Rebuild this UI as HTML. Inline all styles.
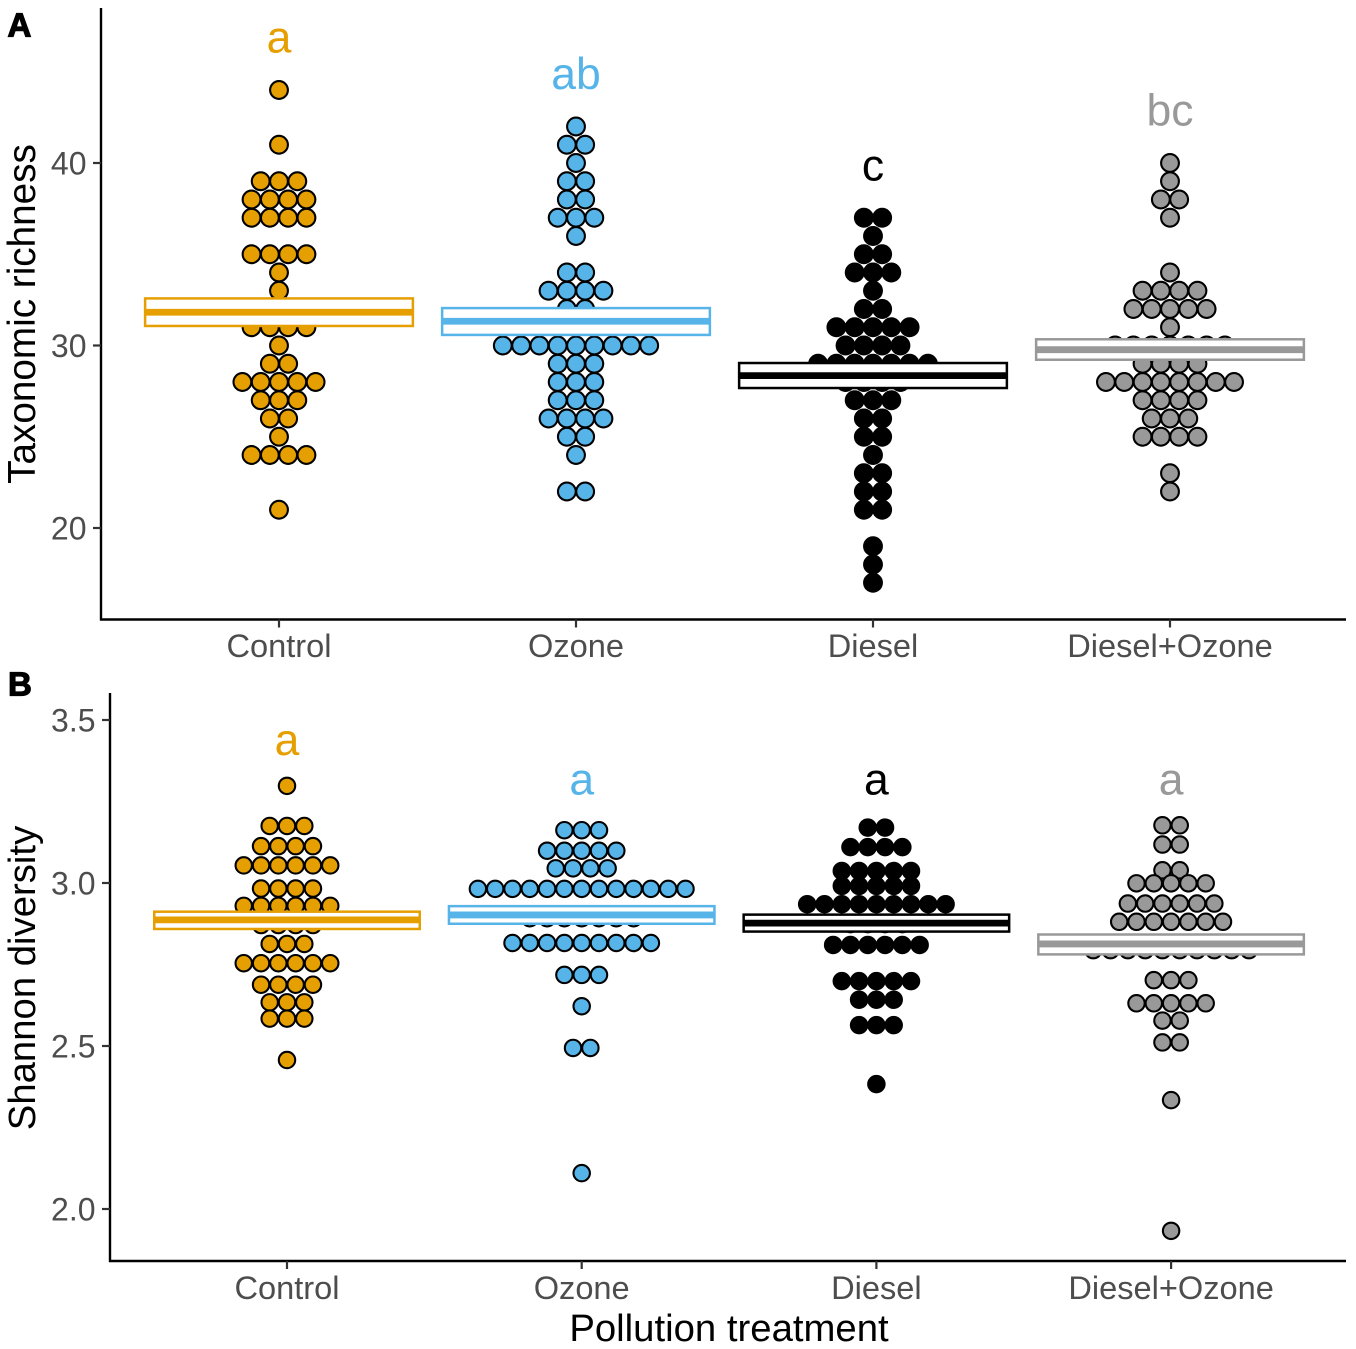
<!DOCTYPE html>
<html lang="en">
<head>
<meta charset="utf-8">
<title>Taxonomic richness and Shannon diversity by pollution treatment</title>
<style>
html,body{margin:0;padding:0;background:#fff;}
svg{display:block;font-family:"Liberation Sans",Arial,sans-serif;}
</style>
</head>
<body>
<svg id="chart" width="1356" height="1349" viewBox="0 0 1356 1349" xmlns="http://www.w3.org/2000/svg">
  <rect x="0" y="0" width="1356" height="1349" fill="#fff"/>
  <text x="7.5" y="36.5" font-size="33" font-weight="700" stroke="#000" stroke-width="1.2">A</text>
  <text x="8" y="695.5" font-size="33" font-weight="700" stroke="#000" stroke-width="1.2">B</text>
  <text transform="translate(35,314) rotate(-90)" text-anchor="middle" font-size="38.7" fill="#000">Taxonomic richness</text>
  <text transform="translate(35,978) rotate(-90)" text-anchor="middle" font-size="38.3" fill="#000">Shannon diversity</text>
  <text x="729" y="1341" text-anchor="middle" font-size="38.3" fill="#000">Pollution treatment</text>
  <g id="panel-a"></g>
  <g id="panel-b"></g>
</svg>
<script>
// Shared categories and colours
const categories = ['Control', 'Ozone', 'Diesel', 'Diesel+Ozone'];
const seriesColors = ['#E69F00', '#56B4E9', '#000000', '#999999'];

// Panel A: taxonomic richness (dot levels and number of dots at each level)
const richnessControlLevels = [44, 41, 39, 38, 37, 35, 34, 33, 31, 30, 29, 28, 27, 26, 25, 24, 21];
const richnessControlCounts = [1, 1, 3, 4, 4, 4, 1, 1, 4, 1, 2, 5, 3, 2, 1, 4, 1];
const richnessOzoneLevels = [42, 41, 40, 39, 38, 37, 36, 34, 33, 32, 30, 29, 28, 27, 26, 25, 24, 22];
const richnessOzoneCounts = [1, 2, 1, 2, 2, 3, 1, 2, 4, 2, 9, 3, 3, 3, 4, 2, 1, 2];
const richnessDieselLevels = [37, 36, 35, 34, 33, 32, 31, 30, 29, 28, 27, 26, 25, 24, 23, 22, 21, 19, 18, 17];
const richnessDieselCounts = [2, 1, 2, 3, 1, 2, 5, 4, 7, 4, 3, 2, 2, 1, 2, 2, 2, 1, 1, 1];
const richnessBothLevels = [40, 39, 38, 37, 34, 33, 32, 31, 30, 29, 28, 27, 26, 25, 23, 22];
const richnessBothCounts = [1, 1, 2, 1, 1, 4, 5, 1, 7, 4, 8, 4, 3, 4, 1, 1];
const richnessMeans = [31.82, 31.33, 28.35, 29.77];
const richnessUpper = [32.58, 32.05, 29.04, 30.34];
const richnessLower = [31.07, 30.58, 27.67, 29.22];
const richnessLetters = ['a', 'ab', 'c', 'bc'];
const richnessLetterLevels = [46.05, 44.05, 39.05, 42.05];
const richnessTicks = [20, 30, 40];
const richnessTickLabels = ['20', '30', '40'];

// Panel B: Shannon diversity
const shannonControlLevels = [3.298, 3.175, 3.113, 3.054, 2.983, 2.93, 2.871, 2.813, 2.754, 2.688, 2.634, 2.584, 2.457];
const shannonControlCounts = [1, 3, 4, 6, 4, 6, 4, 3, 6, 4, 3, 3, 1];
const shannonOzoneLevels = [3.162, 3.099, 3.045, 2.982, 2.892, 2.816, 2.718, 2.622, 2.494, 2.11];
const shannonOzoneCounts = [3, 5, 4, 13, 7, 9, 3, 1, 2, 1];
const shannonDieselLevels = [3.17, 3.11, 3.037, 2.991, 2.935, 2.874, 2.81, 2.699, 2.642, 2.564, 2.383];
const shannonDieselCounts = [2, 4, 5, 5, 9, 4, 6, 5, 3, 3, 1];
const shannonBothLevels = [3.177, 3.118, 3.039, 2.999, 2.937, 2.881, 2.794, 2.702, 2.631, 2.578, 2.511, 2.334, 1.933];
const shannonBothCounts = [2, 2, 2, 5, 6, 7, 10, 3, 5, 2, 2, 1, 1];
const shannonMeans = [2.887, 2.902, 2.877, 2.813];
const shannonUpper = [2.912, 2.929, 2.903, 2.842];
const shannonLower = [2.859, 2.875, 2.851, 2.781];
const shannonLetters = ['a', 'a', 'a', 'a'];
const shannonLetterLevels = [3.392, 3.272, 3.272, 3.272];
const shannonTicks = [2.0, 2.5, 3.0, 3.5];
const shannonTickLabels = ['2.0', '2.5', '3.0', '3.5'];

const NS = 'http://www.w3.org/2000/svg';
function make(tag, parent, props) {
  const el = document.createElementNS(NS, tag);
  for (const k in props) el.setAttribute(k, props[k]);
  parent.appendChild(el);
  return el;
}

function drawPanel(p) {
  const g = document.getElementById(p.id);

  // Dots
  p.levels.forEach(function (levels, c) {
    const counts = p.counts[c];
    levels.forEach(function (level, r) {
      const n = counts[r];
      for (let j = 0; j < n; j++) {
        const dot = make('circle', g, {
          cx: p.x(c) + (j - (n - 1) / 2) * p.step,
          cy: p.y(level),
          r: p.radius,
          fill: seriesColors[c],
          stroke: '#000',
          'stroke-width': 2.1
        });
        
        
      }
    });
  });

  // Mean and standard-error crossbars
  p.means.forEach(function (mean, c) {
    const halfWidth = p.band * 0.45;
    const top = p.y(p.upper[c]);
    const bottom = p.y(p.lower[c]);
    const box = make('rect', g, {
      x: p.x(c) - halfWidth,
      y: top,
      width: halfWidth * 2,
      height: bottom - top,
      fill: '#fff',
      stroke: seriesColors[c],
      'stroke-width': 2.5
    });
    
    
    const line = make('line', g, {
      x1: p.x(c) - halfWidth,
      x2: p.x(c) + halfWidth,
      y1: p.y(mean),
      y2: p.y(mean),
      stroke: seriesColors[c],
      'stroke-width': 6.8
    });
    
    

    const letter = make('text', g, {
      x: p.x(c),
      y: p.y(p.letterLevels[c]),
      'text-anchor': 'middle',
      'font-size': 44.5,
      fill: seriesColors[c]
    });
    letter.textContent = p.letters[c];
    
    
  });

  // Axes
  const axisY = make('line', g, {
    x1: p.left, x2: p.left, y1: p.top, y2: p.bottom + 1,
    stroke: '#000', 'stroke-width': 2.4
  });
  
  
  const axisX = make('line', g, {
    x1: p.left - 1, x2: p.right, y1: p.bottom, y2: p.bottom,
    stroke: '#000', 'stroke-width': 2.4
  });
  
  

  p.ticks.forEach(function (tick, i) {
    const mark = make('line', g, {
      x1: p.left - 8, x2: p.left, y1: p.y(tick), y2: p.y(tick),
      stroke: '#333', 'stroke-width': 2.2
    });
    
    
    const label = make('text', g, {
      x: p.left - 14.5,
      y: p.y(tick) + 11.5,
      'text-anchor': 'end',
      'font-size': 32,
      fill: '#4d4d4d'
    });
    label.textContent = p.tickLabels[i];
    
    
  });

  categories.forEach(function (name, c) {
    const mark = make('line', g, {
      x1: p.x(c), x2: p.x(c), y1: p.bottom, y2: p.bottom + 8,
      stroke: '#333', 'stroke-width': 2.2
    });
    
    
    const label = make('text', g, {
      x: p.x(c),
      y: p.labelBaseline,
      'text-anchor': 'middle',
      'font-size': 32.6,
      fill: '#4d4d4d'
    });
    label.textContent = name;
    
    
  });
}

drawPanel({
  id: 'panel-a',
  x: function (c) { return 279 + 297 * c; },
  y: function (v) { return 528 - (v - 20) * 18.25; },
  band: 297.5, step: 18.3, radius: 8.9,
  left: 101, right: 1346, top: 8, bottom: 619.5, labelBaseline: 657,
  levels: [richnessControlLevels, richnessOzoneLevels, richnessDieselLevels, richnessBothLevels],
  counts: [richnessControlCounts, richnessOzoneCounts, richnessDieselCounts, richnessBothCounts],
  means: richnessMeans, upper: richnessUpper, lower: richnessLower,
  letters: richnessLetters, letterLevels: richnessLetterLevels,
  ticks: richnessTicks, tickLabels: richnessTickLabels
});

drawPanel({
  id: 'panel-b',
  x: function (c) { return 287 + 294.7 * c; },
  y: function (v) { return 1209 - (v - 2) * 326; },
  band: 295, step: 17.3, radius: 8.2,
  left: 110, right: 1346, top: 693, bottom: 1261, labelBaseline: 1299,
  levels: [shannonControlLevels, shannonOzoneLevels, shannonDieselLevels, shannonBothLevels],
  counts: [shannonControlCounts, shannonOzoneCounts, shannonDieselCounts, shannonBothCounts],
  means: shannonMeans, upper: shannonUpper, lower: shannonLower,
  letters: shannonLetters, letterLevels: shannonLetterLevels,
  ticks: shannonTicks, tickLabels: shannonTickLabels
});
</script>
</body>
</html>
